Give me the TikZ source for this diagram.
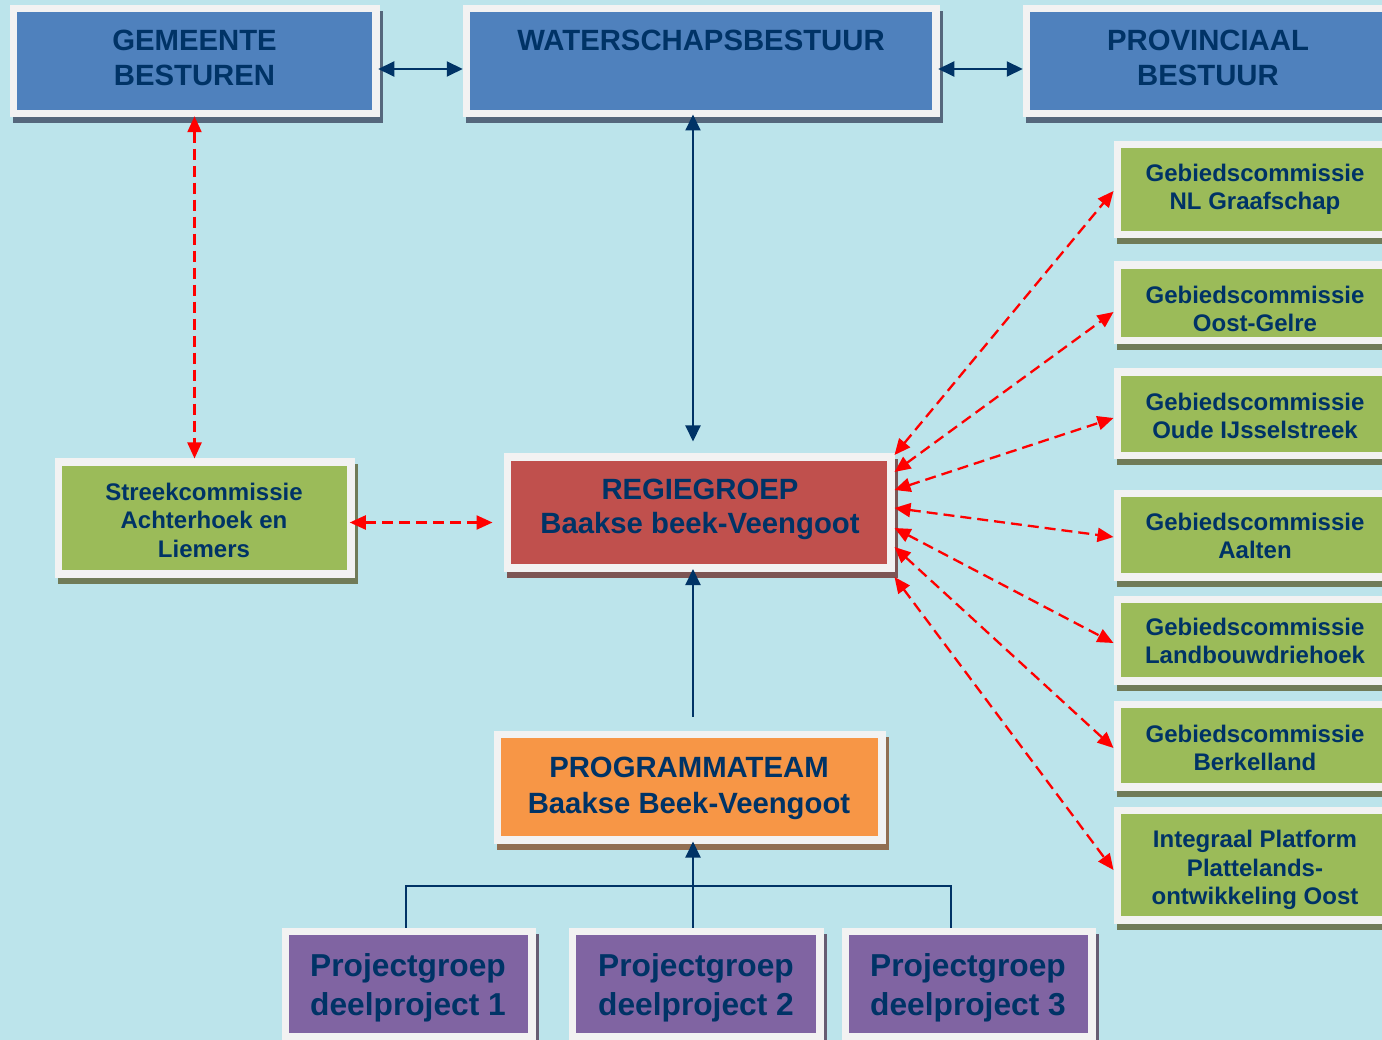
\documentclass[tikz,border=0pt]{standalone}
\usepackage{fontspec}
\setmainfont{Liberation Sans}
\usetikzlibrary{arrows.meta,shadows}
\definecolor{bg}{HTML}{BCE4EB}
\definecolor{bord}{HTML}{F2F2F2}
\definecolor{navy}{HTML}{003366}
\definecolor{cblue}{HTML}{4F81BD}
\definecolor{cred}{HTML}{C0504D}
\definecolor{corange}{HTML}{F79646}
\definecolor{cgreen}{HTML}{9BBB59}
\definecolor{cpurple}{HTML}{8064A2}
\definecolor{arrred}{HTML}{FF0000}
\begin{document}
\begin{tikzpicture}[x=1pt,y=-1pt,
  box/.style={draw=bord, line width=7.5pt, fill=#1, inner sep=0pt,
    drop shadow={shadow xshift=3pt, shadow yshift=-6pt, fill=#1!45!gray!80!black, draw=#1!45!gray!80!black, line width=7.5pt, opacity=1}},
  txt/.style={text=navy, align=center, inner sep=0pt},
  fbig/.style={txt, font=\fontsize{29.3}{35}\selectfont\bfseries},
  fmid/.style={txt, font=\fontsize{24}{28.5}\selectfont\bfseries},
  fpg/.style={txt, font=\fontsize{31.7}{39}\selectfont\bfseries},
  blueln/.style={draw=navy, line width=2pt},
  bluearr/.style={blueln, {Triangle[length=16pt,width=15pt]}-{Triangle[length=16pt,width=15pt]}},
  bluesingle/.style={blueln, -{Triangle[length=16pt,width=15pt]}},
  redarr/.style={draw=arrred, line width=2.3pt, dash pattern=on 11pt off 6pt,
    {Triangle[length=16pt,width=14pt]}-{Triangle[length=16pt,width=14pt]}}
]
\useasboundingbox (0,0) rectangle (1382,1040);
\fill[bg] (0,0) rectangle (1382,1040);

% top row
\node[box=cblue, minimum width=362.5pt, minimum height=105pt] (gem) at (194.5,61.25) {};
\node[box=cblue, minimum width=469.5pt, minimum height=105pt] (wat) at (701,61.25) {};
\node[box=cblue, minimum width=363.5pt, minimum height=105pt] (prov) at (1208,61.25) {};
\node[fbig] (gemt) at (194.5,57.5) {GEMEENTE\\BESTUREN};
\node[fbig] (watt) at (701,40) {WATERSCHAPSBESTUUR};
\node[fbig] (provt) at (1208,57.5) {PROVINCIAAL\\BESTUUR};

% middle
\node[box=cgreen, minimum width=292.5pt, minimum height=111.5pt] (streek) at (204.5,518) {};
\node[fmid] (streekt) at (204,520) {Streekcommissie\\Achterhoek en\\Liemers};
\node[box=cred, minimum width=383.5pt, minimum height=110.5pt] (regie) at (699,512.5) {};
\node[fbig, font=\fontsize{29.3}{34}\selectfont\bfseries] (regiet) at (700,509) {REGIEGROEP\\Baakse beek-Veengoot};
\node[box=corange, minimum width=384.5pt, minimum height=105.5pt] (prog) at (689.5,787) {};
\node[fbig, font=\fontsize{29.3}{36}\selectfont\bfseries] (progt) at (689,788) {PROGRAMMATEAM\\Baakse Beek-Veengoot};

% green column
\node[box=cgreen, minimum width=275.5pt, minimum height=90pt] (nl) at (1255,189.75) {};
\node[box=cgreen, minimum width=275.5pt, minimum height=75.5pt] (oost) at (1255,303) {};
\node[box=cgreen, minimum width=275.5pt, minimum height=83.5pt] (oude) at (1255,414) {};
\node[box=cgreen, minimum width=275.5pt, minimum height=83.5pt] (aalten) at (1255,535) {};
\node[box=cgreen, minimum width=275.5pt, minimum height=81.5pt] (land) at (1255,640) {};
\node[box=cgreen, minimum width=275.5pt, minimum height=82.5pt] (berk) at (1255,745.5) {};
\node[box=cgreen, minimum width=275.5pt, minimum height=109.5pt] (integ) at (1255,865) {};
\node[fmid] (nlt) at (1255,189.5) {Gebiedscommissie\\NL Graafschap};
\node[fmid] (oostt) at (1255,309) {Gebiedscommissie\\Oost-Gelre};
\node[fmid] (oudet) at (1255,416) {Gebiedscommissie\\Oude IJsselstreek};
\node[fmid] (aaltent) at (1255,536) {Gebiedscommissie\\Aalten};
\node[fmid] (landt) at (1255,641) {Gebiedscommissie\\Landbouwdriehoek};
\node[fmid] (berkt) at (1255,748) {Gebiedscommissie\\Berkelland};
\node[fmid] (integt) at (1255,870) {Integraal Platform\\Plattelands-\\ontwikkeling Oost};

% project groups
\node[box=cpurple, minimum width=246.5pt, minimum height=105.5pt] (pg1) at (408.5,984) {};
\node[box=cpurple, minimum width=247.5pt, minimum height=105.5pt] (pg2) at (696,984) {};
\node[box=cpurple, minimum width=246.5pt, minimum height=105.5pt] (pg3) at (968.5,984) {};
\node[fpg] (pg1t) at (408,987.5) {Projectgroep\\deelproject 1};
\node[fpg] (pg2t) at (696,987.5) {Projectgroep\\deelproject 2};
\node[fpg] (pg3t) at (968,987.5) {Projectgroep\\deelproject 3};

% blue connectors
\draw[bluearr, shorten <=-1.25pt, shorten >=-0.25pt] ([yshift=-7.75pt]gem.east) -- ([yshift=-7.75pt]wat.west);
\draw[bluearr, shorten <=-1.25pt, shorten >=-0.25pt] ([yshift=-7.75pt]wat.east) -- ([yshift=-7.75pt]prov.west);
\draw[bluearr, shorten <=-3pt, shorten >=12pt] ([xshift=-8pt]wat.south) -- ([xshift=-8pt]wat.south |- regie.north);
\draw[bluesingle, shorten <=14pt, shorten >=-2.5pt] ([xshift=3.5pt]prog.north) -- ([xshift=3.5pt]prog.north |- regie.south);

\coordinate (j1) at (406,886);
\coordinate (j3) at (951,886);
\draw[blueln] ([xshift=-2.5pt]pg1.north) -- (j1) -- (j3) -- ([xshift=-17.5pt]pg3.north);
\draw[bluesingle, shorten >=-2pt] ([xshift=-3pt]pg2.north) -- ([xshift=-3pt]pg2.north |- prog.south);

% red dashed connectors
\draw[redarr, shorten <=-1.25pt] (gem.south) -- (gem.south |- streek.north);
\draw[redarr, shorten <=-4.75pt, shorten >=11pt] ([yshift=-4.5pt]streek.east) -- ([yshift=-4.5pt]streek.east -| regie.west);
\draw[redarr] ([yshift=57.5pt]regie.east) -- ([yshift=-1.25pt]nl.west);
\draw[redarr] ([yshift=40.5pt]regie.east) -- ([yshift=-9pt]oost.west);
\draw[redarr] ([yshift=22.5pt]regie.east) -- ([yshift=-4pt]oude.west);
\draw[redarr] ([yshift=4.5pt]regie.east) -- ([yshift=-2pt]aalten.west);
\draw[redarr] ([yshift=-15.5pt]regie.east) -- ([yshift=-3pt]land.west);
\draw[redarr] ([yshift=-34.5pt]regie.east) -- ([yshift=-2.5pt]berk.west);
\draw[redarr] ([yshift=-64.5pt]regie.east) -- ([yshift=-5pt]integ.west);
\end{tikzpicture}
\end{document}
